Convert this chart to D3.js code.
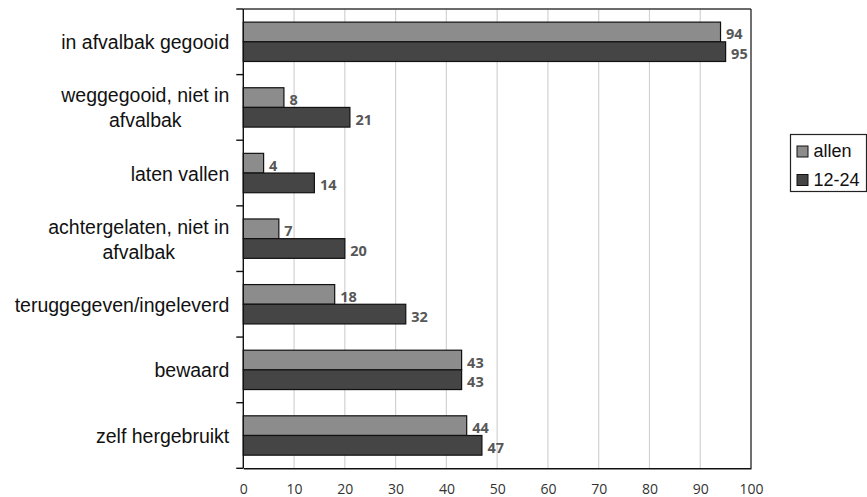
<!DOCTYPE html>
<html>
<head>
<meta charset="utf-8">
<script src="https://cdn.jsdelivr.net/npm/d3@7/dist/d3.min.js"></script>
<style>
  html, body { margin: 0; padding: 0; background: #fff; }
  svg { display: block; }
</style>
</head>
<body>
<script>
// Categories (top to bottom); "\n" marks a line break in the axis label
const categories = [
  "in afvalbak gegooid",
  "weggegooid, niet in\nafvalbak",
  "laten vallen",
  "achtergelaten, niet in\nafvalbak",
  "teruggegeven/ingeleverd",
  "bewaard",
  "zelf hergebruikt"
];
const seriesNames = ["allen", "12-24"];
const allen = [94, 8, 4, 7, 18, 43, 44];
const jong = [95, 21, 14, 20, 32, 43, 47];
const xTicks = [0, 10, 20, 30, 40, 50, 60, 70, 80, 90, 100];

const W = 867, H = 497;
const plot = { left: 243.3, right: 751, top: 9, bottom: 468.3 };
const colors = ["#8c8c8c", "#454545"];

const svg = d3.select("body").append("svg").attr("width", W).attr("height", H);

const x = d3.scaleLinear().domain([0, 100]).range([plot.left, plot.right]);
const y = d3.scaleBand().domain(d3.range(categories.length))
  .range([plot.top, plot.bottom]).paddingInner(0.4).paddingOuter(0.2);
const sub = d3.scaleBand().domain([0, 1]).range([0, y.bandwidth()]);
const step = y.step();

// vertical gridlines
svg.append("g").selectAll("line").data(xTicks.slice(1, -1)).join("line")
  .attr("x1", d => x(d)).attr("x2", d => x(d))
  .attr("y1", plot.top).attr("y2", plot.bottom)
  .attr("stroke", "#d2d2d2").attr("stroke-width", 1.2);

// plot frame (top and right)
svg.append("line").attr("x1", plot.left).attr("x2", plot.right)
  .attr("y1", plot.top).attr("y2", plot.top)
  .attr("stroke", "#3a3a3a").attr("stroke-width", 1.6);
svg.append("line").attr("x1", plot.right).attr("x2", plot.right)
  .attr("y1", plot.top).attr("y2", plot.bottom)
  .attr("stroke", "#111").attr("stroke-width", 1.2);

// bars
const series = [allen, jong];
series.forEach((vals, s) => {
  const g = svg.append("g");
  g.selectAll("rect").data(vals).join("rect")
    .attr("x", x(0))
    .attr("y", (d, i) => y(i) + sub(s))
    .attr("width", d => x(d) - x(0))
    .attr("height", sub.bandwidth())
    .attr("fill", colors[s])
    .attr("stroke", "#111").attr("stroke-width", 1.2);
  g.selectAll("text").data(vals).join("text")
    .attr("x", d => x(d) + 5.5)
    .attr("y", (d, i) => y(i) + sub(s) + sub.bandwidth() / 2 + 7.5)
    .attr("font-family", "'Open Sans', sans-serif")
    .attr("font-size", 14.5).attr("font-weight", 700)
    .attr("fill", "#575757")
    .text(d => d);
});

// x axis
const xAxis = svg.append("g").attr("transform", `translate(0,${plot.bottom})`)
  .call(d3.axisBottom(x).tickValues(xTicks).tickSize(0).tickPadding(16));
xAxis.select(".domain").attr("stroke", "#111").attr("stroke-width", 1.4);
xAxis.selectAll("text")
  .attr("font-family", "'Open Sans', sans-serif")
  .attr("font-size", 14).attr("fill", "#333");

// y axis line and tick marks at category boundaries
svg.append("line").attr("x1", plot.left).attr("x2", plot.left)
  .attr("y1", plot.top).attr("y2", plot.bottom)
  .attr("stroke", "#111").attr("stroke-width", 1.4);
const bounds = d3.range(categories.length + 1).map(i => plot.top + i * step);
svg.append("g").selectAll("line").data(bounds).join("line")
  .attr("x1", plot.left - 7).attr("x2", plot.left)
  .attr("y1", d => d).attr("y2", d => d)
  .attr("stroke", "#111").attr("stroke-width", 1.4);

// category labels: block right-aligned, lines centred within the block
const labelRight = 229.3;
const lineH = 25;
categories.forEach((c, i) => {
  const lines = c.split("\n");
  const cy = y(i) + y.bandwidth() / 2;
  const g = svg.append("g");
  const texts = lines.map((l, k) => g.append("text")
    .attr("font-family", "'Liberation Sans', Arial, sans-serif")
    .attr("font-size", 19.5).attr("fill", "#111")
    .attr("y", cy + 7.5 + (k - (lines.length - 1) / 2) * lineH)
    .text(l));
  const maxW = d3.max(texts, t => t.node().getComputedTextLength());
  texts.forEach(t => t.attr("text-anchor", "middle").attr("x", labelRight - maxW / 2));
});

// legend
const lg = svg.append("g").attr("transform", "translate(790.5,134.5)");
lg.append("rect").attr("width", 76).attr("height", 57)
  .attr("fill", "#fff").attr("stroke", "#222").attr("stroke-width", 1.2);
seriesNames.forEach((n, s) => {
  const row = lg.append("g").attr("transform", `translate(6.5,${11.5 + s * 28.5})`);
  row.append("rect").attr("width", 11).attr("height", 11)
    .attr("fill", colors[s]).attr("stroke", "#111").attr("stroke-width", 1);
  row.append("text").attr("x", 16.5).attr("y", 11)
    .attr("font-family", "'Liberation Sans', Arial, sans-serif")
    .attr("font-size", 18).attr("fill", "#111")
    .text(n);
});
</script>
</body>
</html>
